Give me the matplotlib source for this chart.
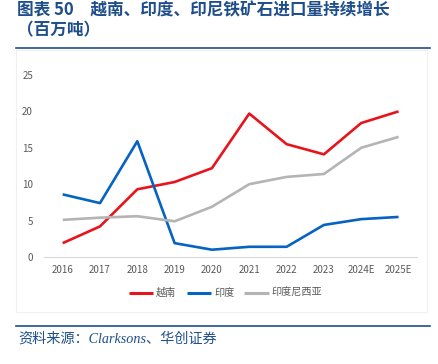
import matplotlib
matplotlib.use("Agg")
import matplotlib.pyplot as plt
from matplotlib.lines import Line2D

plt.rcParams['font.family'] = ['Noto Sans CJK SC', 'DejaVu Sans']

years = ['2016', '2017', '2018', '2019', '2020', '2021', '2022', '2023', '2024E', '2025E']
vietnam = [1.9, 4.2, 9.3, 10.3, 12.2, 19.7, 15.5, 14.1, 18.4, 20.0]
india = [8.6, 7.4, 15.9, 1.9, 1.0, 1.4, 1.4, 4.4, 5.2, 5.5]
indonesia = [5.1, 5.4, 5.6, 4.9, 6.9, 10.0, 11.0, 11.4, 15.0, 16.5]

names = ['越南', '印度', '印度尼西亚']
colors = ['#e8141c', '#0563c1', '#b4b4b4']
title_color = '#1f4e8c'
grey = '#595959'

fig = plt.figure(figsize=(4.38, 3.64), dpi=100)
ax = fig.add_axes([0.1005, 0.294, 0.852, 0.5])

x = range(len(years))
for vals, name, c in zip([vietnam, india, indonesia], names, colors):
    ax.plot(x, vals, color=c, lw=1.9, label=name, solid_capstyle='butt')

ax.set_ylim(0, 25)
ax.set_yticks([0, 5, 10, 15, 20, 25])
ax.set_xlim(-0.5, 9.5)
ax.set_xticks(list(x))
ax.set_xticklabels(years)
ax.tick_params(axis='both', length=0, labelsize=7, colors=grey, pad=6)
ax.tick_params(axis='y', pad=8)
for s in ['top', 'right', 'left']:
    ax.spines[s].set_visible(False)
ax.spines['bottom'].set_color('#d9d9d9')
ax.spines['bottom'].set_linewidth(0.8)

leg = fig.legend(loc='center', bbox_to_anchor=(0.515, 0.195), ncol=3, frameon=False,
                 fontsize=7.3, handlelength=2.4, columnspacing=1.0, handletextpad=0.3)
for t in leg.get_texts():
    t.set_color(grey)
for h in leg.legend_handles:
    h.set_linewidth(2.2)

# faint chart frame
fig.patches.append(plt.Rectangle((16 / 438, 1 - 312 / 364), 411 / 438, 262 / 364,
                                 transform=fig.transFigure, fill=False,
                                 edgecolor='#f0f0f0', lw=0.8))

# title and rules
fig.text(17 / 438, 1 - 10 / 364, '图表 50\u3000越南、印度、印尼铁矿石进口量持续增长',
         fontsize=12, fontweight='bold', color=title_color, va='center')
fig.text(17 / 438, 1 - 30 / 364, '（百万吨）',
         fontsize=12, fontweight='bold', color=title_color, va='center')
fig.add_artist(Line2D([16 / 438, 430 / 438], [1 - 47.5 / 364, 1 - 47.5 / 364],
                      color=title_color, lw=1.2))
fig.add_artist(Line2D([16 / 438, 430 / 438], [1 - 326 / 364, 1 - 326 / 364],
                      color=title_color, lw=1.2))
fig.text(18 / 438, 1 - 339 / 364, '资料来源：Clarksons、华创证券',
         fontsize=10.2, style='italic', color=title_color, va='center',
         family=['Liberation Serif', 'Noto Sans CJK SC'])

fig.savefig('out.png', dpi=100)
